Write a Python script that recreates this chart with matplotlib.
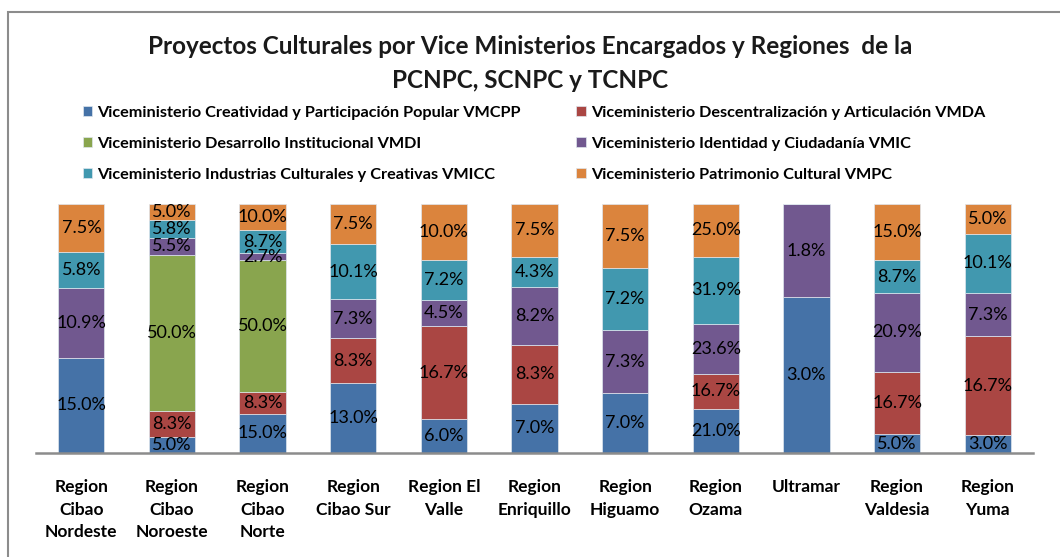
import matplotlib
matplotlib.use("Agg")
import matplotlib.pyplot as plt
import numpy as np
from matplotlib.patches import Rectangle

categories = ["Region\nCibao\nNordeste", "Region\nCibao\nNoroeste", "Region\nCibao\nNorte",
              "Region\nCibao Sur", "Region El\nValle", "Region\nEnriquillo", "Region\nHiguamo",
              "Region\nOzama", "Ultramar", "Region\nValdesia", "Region\nYuma"]

series_names = [
    "Viceministerio Creatividad y Participación Popular VMCPP",
    "Viceministerio Descentralización y Articulación VMDA",
    "Viceministerio Desarrollo Institucional VMDI",
    "Viceministerio Identidad y Ciudadanía VMIC",
    "Viceministerio Industrias Culturales y Creativas VMICC",
    "Viceministerio Patrimonio Cultural VMPC",
]

vmcpp = [15.0, 5.0, 15.0, 13.0, 6.0, 7.0, 7.0, 21.0, 3.0, 5.0, 3.0]
vmda  = [0.0, 8.3, 8.3, 8.3, 16.7, 8.3, 0.0, 16.7, 0.0, 16.7, 16.7]
vmdi  = [0.0, 50.0, 50.0, 0.0, 0.0, 0.0, 0.0, 0.0, 0.0, 0.0, 0.0]
vmic  = [10.9, 5.5, 2.7, 7.3, 4.5, 8.2, 7.3, 23.6, 1.8, 20.9, 7.3]
vmicc = [5.8, 5.8, 8.7, 10.1, 7.2, 4.3, 7.2, 31.9, 0.0, 8.7, 10.1]
vmpc  = [7.5, 5.0, 10.0, 7.5, 10.0, 7.5, 7.5, 25.0, 0.0, 15.0, 5.0]

colors = ["#4572A7", "#AA4643", "#89A54E", "#71588F", "#4198AF", "#DB843D"]

font = "Lato"
plt.rcParams["font.family"] = [font, "DejaVu Sans"]

W, H = 1060, 557
fig = plt.figure(figsize=(W / 100, H / 100), dpi=100)

# chart border
fig.add_artist(Rectangle((8 / W, -0.2), 1.3, 1.2 - 12 / H, transform=fig.transFigure,
                         fill=False, edgecolor="#8c8c8c", linewidth=1.5))

ax = fig.add_axes([36 / W, 1 - 453 / H, (1033 - 36) / W, (453 - 204) / H])

data = np.array([vmcpp, vmda, vmdi, vmic, vmicc, vmpc])
totals = data.sum(axis=0)
frac = data / totals

x = np.arange(len(categories))
bottom = np.zeros(len(categories))
handles = []
for i, (name, col) in enumerate(zip(series_names, colors)):
    bars = ax.bar(x, frac[i], 0.51, bottom=bottom, color=col, edgecolor="#dfe6ee",
                  linewidth=0.5, label=name)
    handles.append(bars)
    for j in range(len(categories)):
        v = data[i, j]
        if v > 0:
            ax.text(x[j], bottom[j] + frac[i, j] / 2, f"{v:.1f}%", ha="center", va="center",
                    fontsize=13, color="black")
    bottom += frac[i]

ax.set_xlim(-0.5, len(categories) - 0.5)
ax.set_ylim(0, 1)
ax.set_yticks([])
for s in ["top", "right", "left"]:
    ax.spines[s].set_visible(False)
ax.spines["bottom"].set_color("#8c8c8c")
ax.spines["bottom"].set_linewidth(1.8)
ax.set_xticks(x)
ax.set_xticklabels(categories, fontsize=12.5, fontweight="bold", linespacing=1.5)
ax.tick_params(axis="x", length=0, pad=19)

fig.text(0.5, 1 - 47 / H, "Proyectos Culturales por Vice Ministerios Encargados y Regiones  de la",
         ha="center", va="center", fontsize=17.5, fontweight="bold", color="#1a1a1a")
fig.text(0.5, 1 - 80 / H, "PCNPC, SCNPC y TCNPC",
         ha="center", va="center", fontsize=17.5, fontweight="bold", color="#1a1a1a")

order = [0, 2, 4, 1, 3, 5]
leg = fig.legend([handles[k] for k in order], [series_names[k] for k in order],
                 ncol=2, loc="upper left", bbox_to_anchor=(68 / W, 1 - 91 / H),
                 frameon=False, prop={"weight": "bold", "size": 11.7},
                 handlelength=0.6, handleheight=0.6, handletextpad=0.3,
                 columnspacing=3.4, labelspacing=1.05)

fig.savefig("out.png", dpi=100)
